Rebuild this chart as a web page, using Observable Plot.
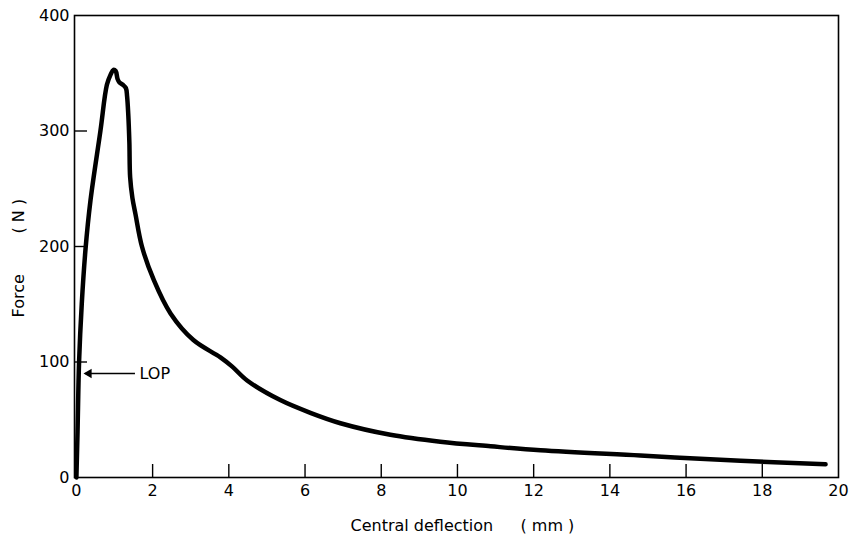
<!DOCTYPE html>
<html>
<head>
<meta charset="utf-8">
<script src="https://cdn.jsdelivr.net/npm/d3@7"></script>
<script src="https://cdn.jsdelivr.net/npm/@observablehq/plot@0.6"></script>
<style>
  html, body { margin: 0; padding: 0; background: #fff; }
</style>
</head>
<body>
<div id="chart"></div>
<script>
// Central deflection (mm)
const deflection = [0, 0.03, 0.07, 0.14, 0.24, 0.37, 0.63, 0.8, 0.9, 0.97, 1.03, 1.08, 1.13, 1.22, 1.3, 1.33, 1.36, 1.39, 1.41, 1.47, 1.55, 1.72, 2.03, 2.47, 3.07, 3.78, 4.09, 4.48, 5.35, 6.14, 6.93, 8.24, 9.55, 10.87, 12.18, 14.8, 17.43, 19.66];
// Force (N)
const force = [0, 40, 100, 150, 198, 240, 300, 340, 349, 353, 352, 345, 342, 340, 337, 330, 315, 290, 260, 242, 228, 200, 171, 142, 119, 104, 96, 84, 67, 56, 47, 37, 31, 27, 23.5, 19, 14.5, 11.4];

const xTicks = [0, 2, 4, 6, 8, 10, 12, 14, 16, 18, 20];
const yTicks = [0, 100, 200, 300, 400];
const xInnerTicks = [2, 4, 6, 8, 10, 12, 14, 16, 18];
const yInnerTicks = [100, 200, 300];

// LOP annotation
const lopLabel = ["LOP"];
const lopFrom = [1.55];
const lopTo = [0.25];
const lopForce = [90];

const xLabel = "Central deflection";
const xUnit = "( mm )";
const yLabel = "Force";
const yUnit = "( N )";

const curve = deflection.map((d, i) => ({x: d, y: force[i]}));
const lop = lopLabel.map((t, i) => ({text: t, x1: lopFrom[i], x2: lopTo[i], y: lopForce[i]}));
const xTickData = xInnerTicks.map(v => ({v}));
const yTickData = yInnerTicks.map(v => ({v}));

const W = 849, H = 540, mL = 74, mR = 11, mT = 15, mB = 63;
const xDomain = [-0.05, 20], yDomain = [0, 400];
const tickLen = 13; // pixels, converted below into data units of each scale
const yTickSpan = tickLen * (yDomain[1] - yDomain[0]) / (H - mT - mB);
const xTickSpan = tickLen * (xDomain[1] - xDomain[0]) / (W - mL - mR);

const chart = Plot.plot({
  width: W,
  height: H,
  marginLeft: mL,
  marginRight: mR,
  marginTop: mT,
  marginBottom: mB,
  style: {fontFamily: "DejaVu Sans, sans-serif", fontSize: "16px", color: "#000", background: "#fff"},
  x: {domain: xDomain},
  y: {domain: yDomain},
  marks: [
    Plot.frame({stroke: "#000", strokeWidth: 1.6}),
    Plot.ruleX(xTickData, {x: "v", y1: () => yDomain[0], y2: () => yDomain[0] + yTickSpan, stroke: "#000", strokeWidth: 1.4}),
    Plot.ruleY(yTickData, {y: "v", x1: () => xDomain[0], x2: () => xDomain[0] + xTickSpan, stroke: "#000", strokeWidth: 1.4}),
    Plot.axisX(xTicks, {tickSize: 0, tickPadding: 7, label: null, fill: "#000"}),
    Plot.axisY(yTicks, {tickSize: 0, tickPadding: 5, label: null, fill: "#000"}),
    Plot.line(curve, {x: "x", y: "y", stroke: "#000", strokeWidth: 4.5, curve: "catmull-rom", strokeLinejoin: "round", strokeLinecap: "round"}),
    Plot.ruleY(lop, {y: "y", x1: "x1", x2: "x2", stroke: "#000", strokeWidth: 1.5}),
    Plot.dot(lop, {x: "x2", y: "y", symbol: "triangle", rotate: -90, r: 3.5, fill: "#000", stroke: "none", dx: 3}),
    Plot.text(lop, {x: "x1", y: "y", text: "text", textAnchor: "start", dx: 4, fill: "#000", fontSize: 16}),
    Plot.text([xLabel], {text: d => d, frameAnchor: "bottom-left", textAnchor: "start", dx: 276, dy: 53, fill: "#000", fontSize: 16}),
    Plot.text([xUnit], {text: d => d, frameAnchor: "bottom-left", textAnchor: "start", dx: 446, dy: 53, fill: "#000", fontSize: 16}),
    Plot.text([yLabel], {text: d => d, frameAnchor: "top-left", rotate: -90, dx: -62, dy: 302, fill: "#000", fontSize: 16}),
    Plot.text([yUnit], {text: d => d, frameAnchor: "top-left", rotate: -90, dx: -62, dy: 218, fill: "#000", fontSize: 16})
  ]
});
document.getElementById("chart").appendChild(chart);
</script>
</body>
</html>
